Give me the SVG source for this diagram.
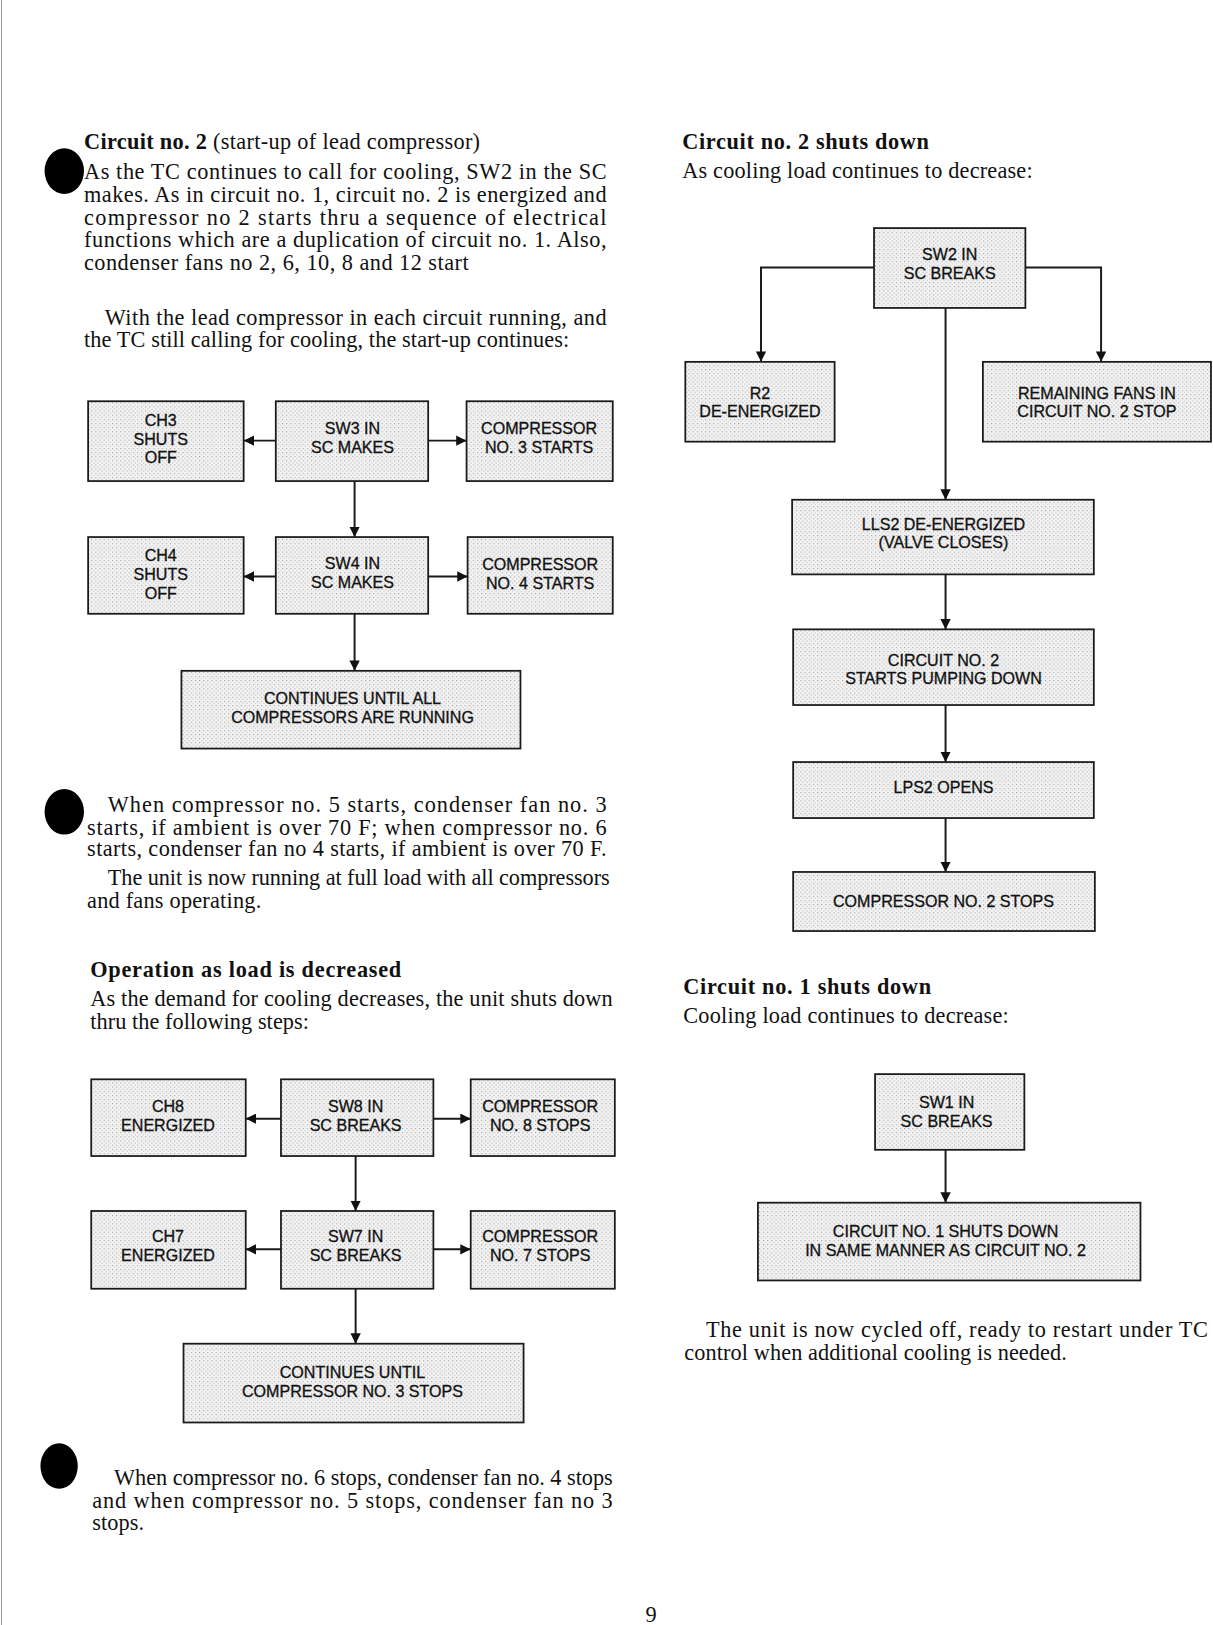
<svg xmlns="http://www.w3.org/2000/svg" width="1213" height="1625" viewBox="0 0 1213 1625">
<defs>
<pattern id="stip" width="4" height="4" patternUnits="userSpaceOnUse">
<rect width="4" height="4" fill="#f3f3f3"/>
<rect x="0" y="0" width="1" height="1" fill="#9a9a9a"/>
<rect x="2" y="2" width="1" height="1" fill="#b5b5b5"/>
</pattern>
<marker id="ah" viewBox="0 0 10 10" refX="10" refY="5" markerWidth="10" markerHeight="10" markerUnits="userSpaceOnUse" orient="auto">
<path d="M0,0 L10,5 L0,10 z" fill="#111"/>
</marker>
<style>
.b{font-family:"Liberation Serif","Times New Roman",serif;font-size:21.5px;fill:#111}
.hd{font-weight:bold}
.bx{font-family:"Liberation Sans",Arial,sans-serif;font-size:15.5px;text-anchor:middle;fill:#111;stroke:#111;stroke-width:0.3}
.box{fill:url(#stip);stroke:#1a1a1a;stroke-width:1.7}
.cn{stroke:#1a1a1a;stroke-width:1.9;fill:none;marker-end:url(#ah)}
.dot{fill:#000}
</style>
</defs>
<rect width="1213" height="1625" fill="#fff"/>
<line x1="1.5" y1="0" x2="1.5" y2="1625" stroke="#999" stroke-width="1"/>
<g transform="scale(1.0368)">
<g id="text">
<ellipse class="dot" cx="62" cy="165" rx="19" ry="22"/>
<ellipse class="dot" cx="62" cy="783" rx="19" ry="22"/>
<ellipse class="dot" cx="57" cy="1414" rx="18" ry="22"/>
<text class="b" x="81" y="144" textLength="382"><tspan class="hd">Circuit no. 2</tspan> (start-up of lead compressor)</text>
<text class="b" x="81" y="173" textLength="504">As the TC continues to call for cooling, SW2 in the SC</text>
<text class="b" x="81" y="195" textLength="504">makes. As in circuit no. 1, circuit no. 2 is energized and</text>
<text class="b" x="81" y="217" textLength="504">compressor no 2 starts thru a sequence of electrical</text>
<text class="b" x="81" y="238" textLength="504">functions which are a duplication of circuit no. 1. Also,</text>
<text class="b" x="81" y="260" textLength="371">condenser fans no 2, 6, 10, 8 and 12 start</text>
<text class="b" x="101" y="313" textLength="484">With the lead compressor in each circuit running, and</text>
<text class="b" x="81" y="335" textLength="468">the TC still calling for cooling, the start-up continues:</text>
<text class="b" x="104" y="783" textLength="481">When compressor no. 5 starts, condenser fan no. 3</text>
<text class="b" x="84" y="805" textLength="501">starts, if ambient is over 70 F; when compressor no. 6</text>
<text class="b" x="84" y="826" textLength="501">starts, condenser fan no 4 starts, if ambient is over 70 F.</text>
<text class="b" x="104" y="854" textLength="484">The unit is now running at full load with all compressors</text>
<text class="b" x="84" y="876" textLength="168">and fans operating.</text>
<text class="b hd" x="87" y="942" textLength="300">Operation as load is decreased</text>
<text class="b" x="87" y="970" textLength="504">As the demand for cooling decreases, the unit shuts down</text>
<text class="b" x="87" y="992" textLength="211">thru the following steps:</text>
<text class="b" x="110" y="1432" textLength="481">When compressor no. 6 stops, condenser fan no. 4 stops</text>
<text class="b" x="89" y="1454" textLength="502">and when compressor no. 5 stops, condenser fan no 3</text>
<text class="b" x="89" y="1476" textLength="50">stops.</text>
<text class="b hd" x="658" y="144" textLength="238">Circuit no. 2 shuts down</text>
<text class="b" x="658" y="172" textLength="338">As cooling load continues to decrease:</text>
<text class="b hd" x="659" y="959" textLength="239">Circuit no. 1 shuts down</text>
<text class="b" x="659" y="987" textLength="314">Cooling load continues to decrease:</text>
<text class="b" x="681" y="1290" textLength="484">The unit is now cycled off, ready to restart under TC</text>
<text class="b" x="660" y="1312" textLength="369">control when additional cooling is needed.</text>
<text class="b" x="628" y="1564" text-anchor="middle">9</text>
</g>
<g id="connectors">
<path class="cn" d="M266,425 L235,425"/>
<path class="cn" d="M413,425 L450,425"/>
<path class="cn" d="M342,464 L342,518"/>
<path class="cn" d="M266,556 L235,556"/>
<path class="cn" d="M413,556 L451,556"/>
<path class="cn" d="M342,592 L342,647"/>
<path class="cn" d="M271,1079 L237,1079"/>
<path class="cn" d="M418,1079 L454,1079"/>
<path class="cn" d="M343,1115 L343,1168"/>
<path class="cn" d="M271,1205 L237,1205"/>
<path class="cn" d="M418,1205 L454,1205"/>
<path class="cn" d="M343,1243 L343,1296"/>
<path class="cn" d="M843,258 L734,258 L734,349"/>
<path class="cn" d="M989,258 L1062,258 L1062,349"/>
<path class="cn" d="M912,297 L912,482"/>
<path class="cn" d="M912,554 L912,607"/>
<path class="cn" d="M912,680 L912,735"/>
<path class="cn" d="M912,789 L912,841"/>
<path class="cn" d="M912,1109 L912,1160"/>
</g>
<g id="ch3"><rect class="box" x="85" y="387" width="150" height="77"/><text class="bx" x="155" y="411">CH3</text><text class="bx" x="155" y="429">SHUTS</text><text class="bx" x="155" y="447">OFF</text></g>
<g id="sw3"><rect class="box" x="266" y="387" width="147" height="77"/><text class="bx" x="340" y="419">SW3 IN</text><text class="bx" x="340" y="437">SC MAKES</text></g>
<g id="comp3"><rect class="box" x="450" y="387" width="141" height="77"/><text class="bx" x="520" y="419">COMPRESSOR</text><text class="bx" x="520" y="437">NO. 3 STARTS</text></g>
<g id="ch4"><rect class="box" x="85" y="518" width="150" height="74"/><text class="bx" x="155" y="541">CH4</text><text class="bx" x="155" y="559">SHUTS</text><text class="bx" x="155" y="578">OFF</text></g>
<g id="sw4"><rect class="box" x="266" y="518" width="147" height="74"/><text class="bx" x="340" y="549">SW4 IN</text><text class="bx" x="340" y="567">SC MAKES</text></g>
<g id="comp4"><rect class="box" x="451" y="518" width="140" height="74"/><text class="bx" x="521" y="550">COMPRESSOR</text><text class="bx" x="521" y="568">NO. 4 STARTS</text></g>
<g id="cont1"><rect class="box" x="175" y="647" width="327" height="75"/><text class="bx" x="340" y="679">CONTINUES UNTIL ALL</text><text class="bx" x="340" y="697">COMPRESSORS ARE RUNNING</text></g>
<g id="ch8"><rect class="box" x="88" y="1041" width="149" height="74"/><text class="bx" x="162" y="1073">CH8</text><text class="bx" x="162" y="1091">ENERGIZED</text></g>
<g id="sw8"><rect class="box" x="271" y="1041" width="147" height="74"/><text class="bx" x="343" y="1073">SW8 IN</text><text class="bx" x="343" y="1091">SC BREAKS</text></g>
<g id="comp8"><rect class="box" x="454" y="1041" width="139" height="74"/><text class="bx" x="521" y="1073">COMPRESSOR</text><text class="bx" x="521" y="1091">NO. 8 STOPS</text></g>
<g id="ch7"><rect class="box" x="88" y="1168" width="149" height="75"/><text class="bx" x="162" y="1198">CH7</text><text class="bx" x="162" y="1216">ENERGIZED</text></g>
<g id="sw7"><rect class="box" x="271" y="1168" width="147" height="75"/><text class="bx" x="343" y="1198">SW7 IN</text><text class="bx" x="343" y="1216">SC BREAKS</text></g>
<g id="comp7"><rect class="box" x="454" y="1168" width="139" height="75"/><text class="bx" x="521" y="1198">COMPRESSOR</text><text class="bx" x="521" y="1216">NO. 7 STOPS</text></g>
<g id="cont2"><rect class="box" x="177" y="1296" width="328" height="76"/><text class="bx" x="340" y="1329">CONTINUES UNTIL</text><text class="bx" x="340" y="1347">COMPRESSOR NO. 3 STOPS</text></g>
<g id="sw2"><rect class="box" x="843" y="220" width="146" height="77"/><text class="bx" x="916" y="251">SW2 IN</text><text class="bx" x="916" y="269">SC BREAKS</text></g>
<g id="r2"><rect class="box" x="661" y="349" width="144" height="77"/><text class="bx" x="733" y="385">R2</text><text class="bx" x="733" y="402">DE-ENERGIZED</text></g>
<g id="fans"><rect class="box" x="948" y="349" width="220" height="77"/><text class="bx" x="1058" y="385">REMAINING FANS IN</text><text class="bx" x="1058" y="402">CIRCUIT NO. 2 STOP</text></g>
<g id="lls2"><rect class="box" x="764" y="482" width="291" height="72"/><text class="bx" x="910" y="511">LLS2 DE-ENERGIZED</text><text class="bx" x="910" y="529">(VALVE CLOSES)</text></g>
<g id="pump"><rect class="box" x="765" y="607" width="290" height="73"/><text class="bx" x="910" y="642">CIRCUIT NO. 2</text><text class="bx" x="910" y="660">STARTS PUMPING DOWN</text></g>
<g id="lps2"><rect class="box" x="765" y="735" width="290" height="54"/><text class="bx" x="910" y="765">LPS2 OPENS</text></g>
<g id="comp2"><rect class="box" x="765" y="841" width="291" height="57"/><text class="bx" x="910" y="875">COMPRESSOR NO. 2 STOPS</text></g>
<g id="sw1"><rect class="box" x="844" y="1036" width="144" height="73"/><text class="bx" x="913" y="1069">SW1 IN</text><text class="bx" x="913" y="1087">SC BREAKS</text></g>
<g id="circ1"><rect class="box" x="731" y="1160" width="369" height="75"/><text class="bx" x="912" y="1193">CIRCUIT NO. 1 SHUTS DOWN</text><text class="bx" x="912" y="1211">IN SAME MANNER AS CIRCUIT NO. 2</text></g>
</g>
</svg>
